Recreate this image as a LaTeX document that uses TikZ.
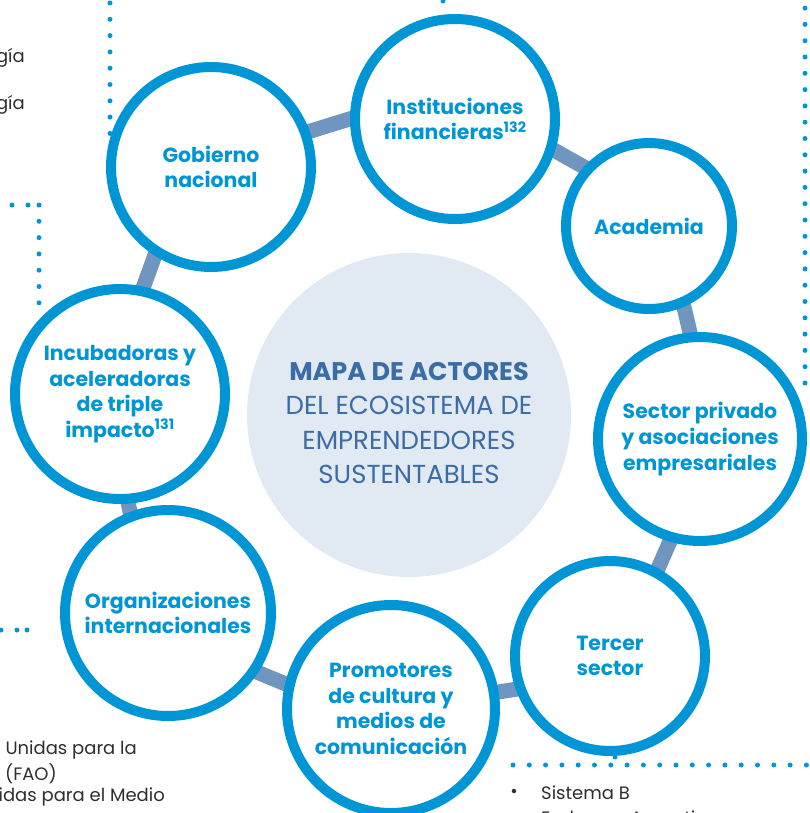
\documentclass[tikz,border=0pt]{standalone}
\usepackage{fontspec}
\setmainfont{Poppins}
\usetikzlibrary{backgrounds}

\definecolor{ringblue}{HTML}{0096D6}
\definecolor{linkblue}{HTML}{7096C0}
\definecolor{hubfill}{HTML}{E1E9F2}
\definecolor{hubtext}{HTML}{3A6CA7}
\definecolor{bodygray}{HTML}{2E2E2E}

\tikzset{
  actor/.style={circle, draw=ringblue, line width=10pt, fill=white, inner sep=0pt, outer sep=0pt,
    align=center, text=ringblue, font=\fontsize{20.5}{25.7}\selectfont\bfseries},
  link/.style={draw=linkblue, line width=15pt},
  dotline/.style={draw=ringblue, line width=5pt, line cap=round, dash pattern=on 0pt off 16.3pt},
  bodytext/.style={text=bodygray, font=\fontsize{18}{23.5}\selectfont, inner sep=0pt},
}

\begin{document}
\begin{tikzpicture}[x=1pt,y=-1pt]
            \useasboundingbox (0,0) rectangle (809,813);
            \clip (0,0) rectangle (809,813);
            % dotted rules of the page
            \draw[dotline] (110,3) -- (110,135);
            \draw[dotline] (39,205) -- (39,305);
            \draw[dotline] (443,1) -- (443,14);
            \draw[dotline] (805,383) -- (805,-2);
            \draw[dotline] (513,765) -- (822,765);
            \foreach \x in {12,28} \fill[ringblue] (\x,205) circle (2.5);
            \foreach \x in {1,17,27} \fill[ringblue] (\x,630) circle (2.5);
            \fill[ringblue] (615,757) circle (2.5);
            % side texts
            \node[bodytext, anchor=east] (side1) at (25,58) {gía};
            \node[bodytext, anchor=east] (side2) at (25,105) {gía};
            \node[bodytext, anchor=east] (foot1) at (137,750) {Unidas para la};
            \node[bodytext, anchor=east] (foot2) at (57,774) {(FAO)};
            \node[bodytext, anchor=east] (foot3) at (165,797) {idas para el Medio};
            \node[bodytext] (bullet) at (514,793) {•};
            \node[bodytext, anchor=west] (item1) at (541,793) {Sistema B};
            \node[bodytext, anchor=west] (item2) at (541,820) {Endeavor Argentina};
            % centre
            \node[circle, fill=hubfill, minimum size=324pt, inner sep=0pt] (hub) at (409,415) {};
            \node[align=center, text=hubtext, font=\fontsize{26}{34.3}\selectfont] (hubtitle) at (409,423)
              {{\fontsize{25.5}{34.3}\selectfont\bfseries MAPA DE ACTORES}\\DEL ECOSISTEMA DE\\EMPRENDEDORES\\SUSTENTABLES};
            % actors
            \node[actor, minimum size=200pt] (gob) at (211,167) {Gobierno\\nacional};
            \node[actor, minimum size=200pt] (inst) at (455,119) {Instituciones\\financieras\textsuperscript{132}};
            \node[actor, minimum size=166pt] (acad) at (649,226) {Academia};
            \node[actor, minimum size=204pt] (sector) at (700,439) {Sector privado\\y asociaciones\\empresariales};
            \node[actor, minimum size=190pt] (tercer) at (610,656) {Tercer\\sector};
            \node[actor, minimum size=208pt] (promo) at (391,709) {Promotores\\de cultura y\\medios de\\comunicación};
            \node[actor, minimum size=206pt] (org) at (168,613) {Organizaciones\\internacionales};
            \node[actor, minimum size=210pt] (incub) at (120,394) {Incubadoras y\\aceleradoras\\de triple\\impacto\textsuperscript{131}};
            % links behind the rings
            \begin{scope}[on background layer]
              \draw[link] (gob.20) -- (inst.179);
              \draw[link] (inst.-17) -- (acad.137);
              \draw[link] (acad.-66) -- (sector.95);
              \draw[link] (sector.254) -- (tercer.61);
              \draw[link] (tercer.200) -- (promo.9);
              \draw[link] (promo.167) -- (org.-34);
              \draw[link] (org.111) -- (incub.-86);
              \draw[link] (incub.78) -- (gob.237);
            \end{scope}
        \end{tikzpicture}
\end{document}
